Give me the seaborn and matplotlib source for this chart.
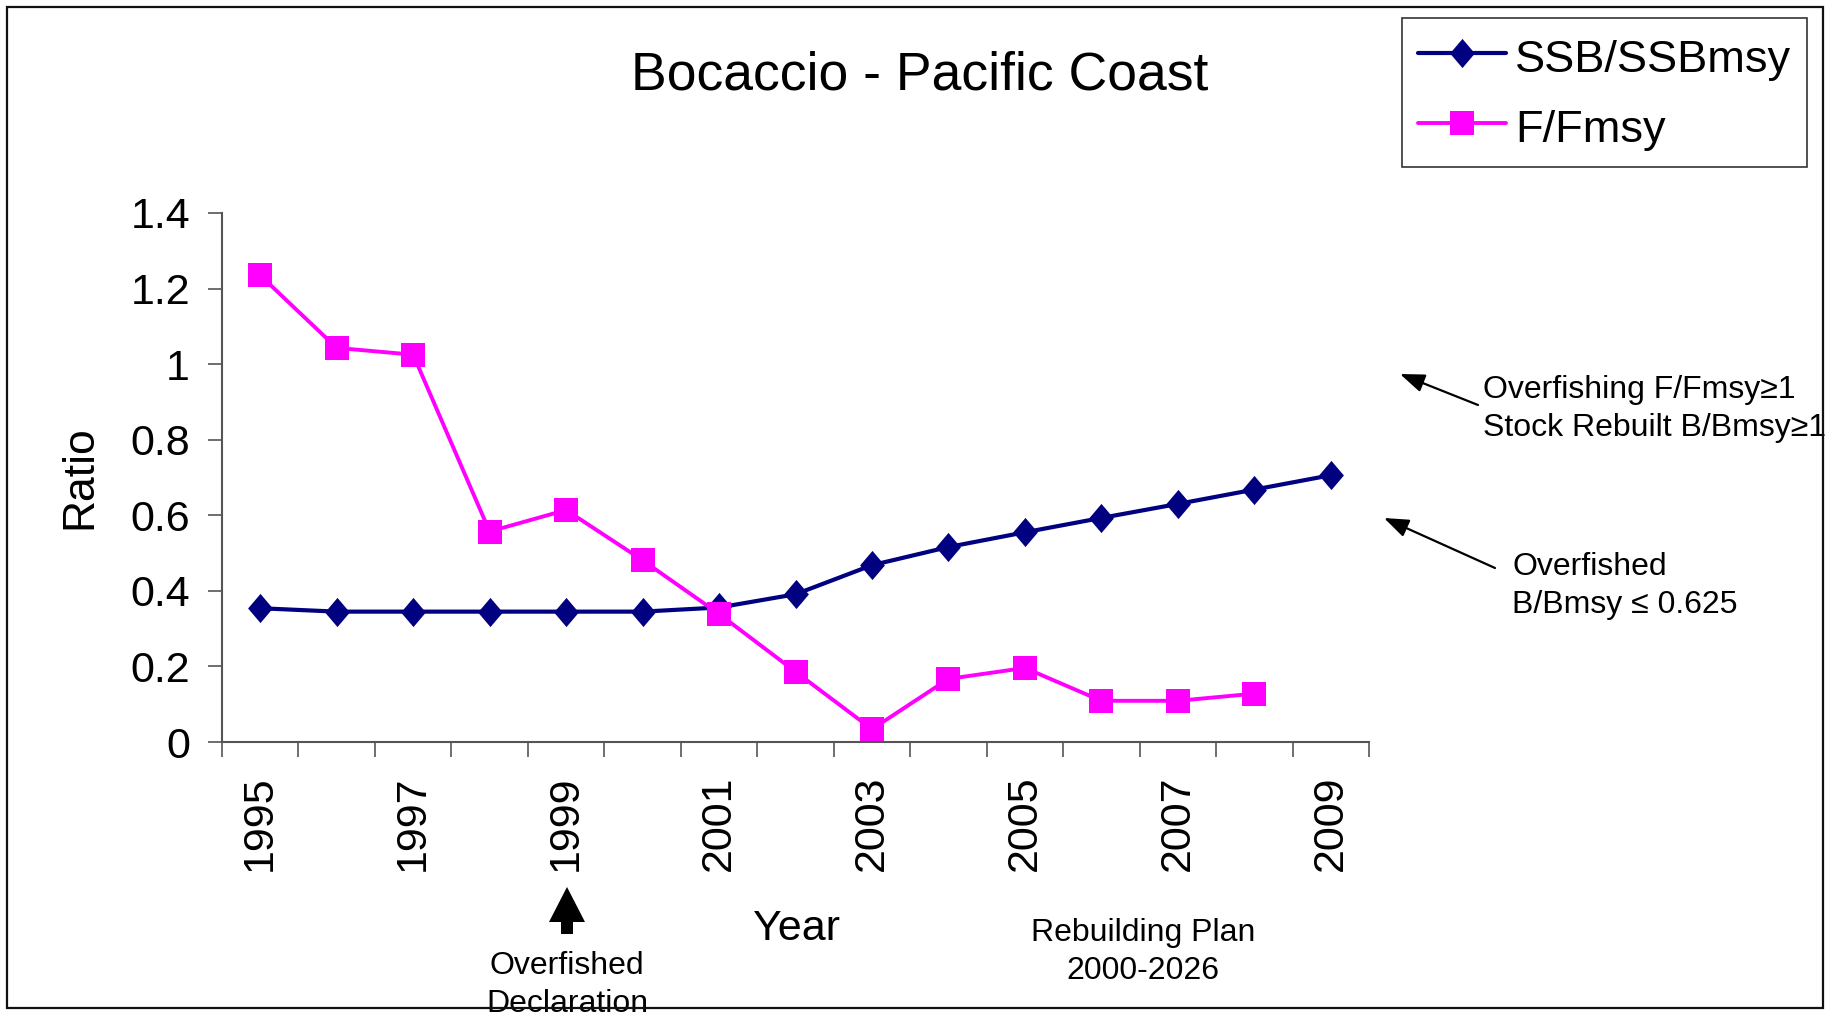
import numpy as np
import pandas as pd
import matplotlib
matplotlib.use("Agg")
import matplotlib.pyplot as plt
from matplotlib.patches import Rectangle, Polygon
from matplotlib.ticker import FixedLocator, FuncFormatter
import seaborn as sns

# ---- data -------------------------------------------------------------
years = list(range(1995, 2010))
ssb_ratio = [0.354, 0.345, 0.345, 0.345, 0.345, 0.345, 0.356, 0.391,
             0.468, 0.516, 0.555, 0.593, 0.630, 0.668, 0.706]
f_ratio = [1.235, 1.043, 1.025, 0.557, 0.614, 0.481, 0.339, 0.186,
           0.034, 0.167, 0.196, 0.109, 0.109, 0.128, np.nan]
y_ticks = [0.0, 0.2, 0.4, 0.6, 0.8, 1.0, 1.2, 1.4]
series_names = ["SSB/SSBmsy", "F/Fmsy"]

df = pd.DataFrame({"pos": np.arange(len(years)), "year": years,
                   series_names[0]: ssb_ratio, series_names[1]: f_ratio})

# ---- style ------------------------------------------------------------
sns.set_style("white")
plt.rcParams["font.family"] = ["Liberation Sans", "DejaVu Sans"]
for key in ("text.color", "axes.labelcolor", "xtick.color", "ytick.color"):
    plt.rcParams[key] = "black"

W, H = 1837, 1016
fig = plt.figure(figsize=(W / 100, H / 100), dpi=100)
ax = fig.add_axes([222 / W, 1 - 742 / H, (1369 - 222) / W, (742 - 213) / H])

navy = "#000080"
magenta = "#FF00FF"
tall_diamond = [(0, 1), (0.85, 0), (0, -1), (-0.85, 0), (0, 1)]

sns.lineplot(data=df, x="pos", y=series_names[0], ax=ax, color=navy,
             linewidth=3.0, marker=tall_diamond, markersize=21,
             markeredgewidth=0, label=series_names[0])
sns.lineplot(data=df.dropna(subset=[series_names[1]]), x="pos", y=series_names[1],
             ax=ax, color=magenta, linewidth=2.8, marker="s", markersize=17,
             markeredgewidth=0, label=series_names[1])

# ---- axes -------------------------------------------------------------
n = len(years)
ax.set_xlim(-0.5, n - 0.5)
ax.set_ylim(y_ticks[0], y_ticks[-1])
ax.set_xlabel("")
ax.set_ylabel("")

ax.xaxis.set_major_locator(FixedLocator(np.arange(n)))
ax.set_xticklabels([str(y) if y % 2 == 1 else "" for y in years],
                   rotation=90, fontsize=31)
ax.xaxis.set_minor_locator(FixedLocator(np.arange(n + 1) - 0.5))
ax.tick_params(axis="x", which="major", length=0, pad=24)
ax.tick_params(axis="x", which="minor", length=10.8, width=1.2,
               color="#555555", direction="out", bottom=True)

ax.yaxis.set_major_locator(FixedLocator(y_ticks))
ax.yaxis.set_major_formatter(FuncFormatter(lambda v, _: f"{v:g}"))
ax.tick_params(axis="y", which="major", length=10, width=1.2, color="#555555",
               direction="out", left=True, labelsize=31, pad=13)
ax.yaxis.set_minor_locator(FixedLocator(y_ticks[1:-1]))
ax.tick_params(axis="y", which="minor", length=0)
ax.grid(False)
ax.grid(which="minor", axis="y", color="black", linewidth=1.3)

for side in ("top", "right"):
    ax.spines[side].set_visible(False)
for side in ("left", "bottom"):
    ax.spines[side].set_color("#555555")
    ax.spines[side].set_linewidth(1.5)

# ---- legend -----------------------------------------------------------
leg = ax.legend(loc="upper left", bbox_to_anchor=(1402 / W, 1 - 18 / H),
                bbox_transform=fig.transFigure, fontsize=32.5, frameon=True,
                fancybox=False, framealpha=1, edgecolor="#333333",
                handlelength=1.95, handleheight=1.2, handletextpad=0.2,
                labelspacing=0.5, borderpad=0.35, borderaxespad=0)
leg.get_frame().set_linewidth(1.2)

# ---- text -------------------------------------------------------------
fig.text(920 / W, 1 - 76 / H, "Bocaccio - Pacific Coast", ha="center",
         va="center", fontsize=38.5)
fig.text(797 / W, 1 - 929 / H, "Year", ha="center", va="center", fontsize=31)
fig.text(80 / W, 1 - 477 / H, "Ratio", ha="center", va="center",
         rotation=90, fontsize=32)

fig.text(1483 / W, 1 - 409 / H, "Overfishing F/Fmsy≥1\nStock Rebuilt B/Bmsy≥1",
         ha="left", va="center", fontsize=23, linespacing=1.32)
fig.text(1512 / W, 1 - 586 / H, "Overfished\nB/Bmsy ≤ 0.625",
         ha="left", va="center", fontsize=23, linespacing=1.32)
fig.text(1143 / W, 1 - 952 / H, "Rebuilding Plan\n2000-2026",
         ha="center", va="center", fontsize=23, linespacing=1.32)
fig.text(567 / W, 1 - 985 / H, "Overfished\nDeclaration",
         ha="center", va="center", fontsize=23, linespacing=1.32)

# thin arrows pointing to the threshold levels
arrow_kw = dict(arrowstyle="-|>,head_length=0.75,head_width=0.28",
                color="black", lw=1.6, shrinkA=0, shrinkB=0, mutation_scale=20)
ax.annotate("", xy=(1400 / W, 1 - 374 / H), xytext=(1478 / W, 1 - 405 / H),
            xycoords="figure fraction", textcoords="figure fraction",
            arrowprops=arrow_kw, annotation_clip=False)
ax.annotate("", xy=(1384 / W, 1 - 518 / H), xytext=(1495 / W, 1 - 568 / H),
            xycoords="figure fraction", textcoords="figure fraction",
            arrowprops=arrow_kw, annotation_clip=False)

# block arrow under 1999
cx = 567
block = [(cx, 887), (cx + 18, 922), (cx + 6, 922), (cx + 6, 934),
         (cx - 6, 934), (cx - 6, 922), (cx - 18, 922)]
fig.patches.append(Polygon([(x / W, 1 - y / H) for x, y in block],
                           closed=True, transform=fig.transFigure,
                           facecolor="black", edgecolor="none"))

# outer frame
fig.patches.append(Rectangle((7 / W, 1 - 1008 / H), (1823 - 7) / W, (1008 - 7) / H,
                             transform=fig.transFigure, fill=False,
                             edgecolor="#111111", linewidth=1.6, zorder=10))

fig.savefig("out.png", dpi=100, facecolor="white")
